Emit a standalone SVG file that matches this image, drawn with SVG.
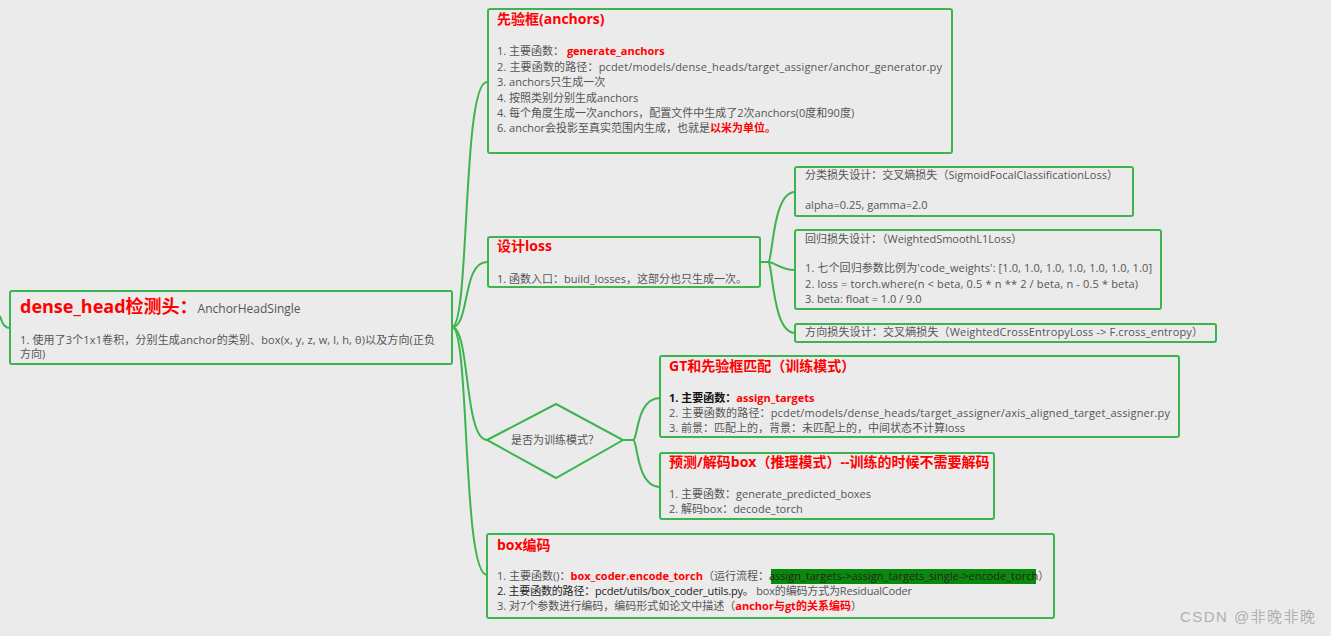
<svg xmlns="http://www.w3.org/2000/svg" width="1331" height="636" viewBox="0 0 1331 636">
<style>
text{font-family:"Open Sans","Noto Sans CJK SC",sans-serif;font-size:11px;fill:#555555}
.box{fill:#ebebeb;stroke:#3db54f;stroke-width:2}
.c{fill:none;stroke:#3db54f;stroke-width:2}
.t{fill:#ff0000;font-weight:bold;font-size:14px}
.r{fill:#ff0000;font-weight:bold}
.k{fill:#222222}
.kb{fill:#111111;font-weight:bold}
</style>
<rect width="1331" height="636" fill="#ebebeb"/>
<g id="connectors">
<path class="c" d="M0,316 C3,326 6,328 10,328"/>
<path class="c" d="M452,327 C470,327 462,82 487,82"/>
<path class="c" d="M452,327 C470,327 462,262 487,262"/>
<path class="c" d="M452,327 C470,327 464,440 487,440"/>
<path class="c" d="M452,327 C470,327 462,575 487,575"/>
<path class="c" d="M760,262 L768,262 C773,262 772,192 795,192"/>
<path class="c" d="M768,262 C775,262 780,270 795,270"/>
<path class="c" d="M768,262 C773,262 772,333 795,333"/>
<path class="c" d="M623,440 L633,440 C638,440 636,398 660,398"/>
<path class="c" d="M633,440 C638,440 636,487 660,487"/>
</g>
<g id="dense_head">
<rect class="box" x="10" y="291" width="442" height="73" rx="2"/>
<text x="20" y="313" style="font-size:18px;font-weight:bold;fill:#ff0000">dense_head检测头：<tspan style="font-size:12px;font-weight:normal;fill:#555555">AnchorHeadSingle</tspan></text>
<text x="20" y="344" textLength="415">1. 使用了3个1x1卷积，分别生成anchor的类别、box(x, y, z, w, l, h, θ)以及方向(正负</text>
<text x="20" y="358">方向)</text>
</g>
<g id="anchors">
<rect class="box" x="488" y="9" width="464" height="144" rx="2"/>
<text class="t" x="497" y="24">先验框(anchors)</text>
<text x="497" y="55">1. 主要函数： <tspan class="r">generate_anchors</tspan></text>
<text x="497" y="71" textLength="445">2. 主要函数的路径：pcdet/models/dense_heads/target_assigner/anchor_generator.py</text>
<text x="497" y="86">3. anchors只生成一次</text>
<text x="497" y="102">4. 按照类别分别生成anchors</text>
<text x="497" y="117">4. 每个角度生成一次anchors，配置文件中生成了2次anchors(0度和90度)</text>
<text x="497" y="132">6. anchor会投影至真实范围内生成，也就是<tspan class="r">以米为单位。</tspan></text>
</g>
<g id="loss">
<rect class="box" x="488" y="237" width="272" height="50" rx="2"/>
<text class="t" x="497" y="251">设计loss</text>
<text x="497" y="283">1. 函数入口：build_losses，这部分也只生成一次。</text>
</g>
<g id="cls_loss">
<rect class="box" x="795" y="167" width="338" height="49" rx="2"/>
<text x="805" y="179" textLength="313">分类损失设计：交叉熵损失（SigmoidFocalClassificationLoss）</text>
<text x="805" y="209">alpha=0.25, gamma=2.0</text>
</g>
<g id="reg_loss">
<rect class="box" x="795" y="230" width="366" height="79" rx="2"/>
<text x="805" y="243">回归损失设计：（WeightedSmoothL1Loss）</text>
<text x="805" y="272" textLength="347">1. 七个回归参数比例为'code_weights': [1.0, 1.0, 1.0, 1.0, 1.0, 1.0, 1.0]</text>
<text x="805" y="288" textLength="333">2. loss = torch.where(n &lt; beta, 0.5 * n ** 2 / beta, n - 0.5 * beta)</text>
<text x="805" y="303">3. beta: float = 1.0 / 9.0</text>
</g>
<g id="dir_loss">
<rect class="box" x="795" y="324" width="421" height="18" rx="2"/>
<text x="805" y="336" textLength="398">方向损失设计：交叉熵损失（WeightedCrossEntropyLoss -&gt; F.cross_entropy）</text>
</g>
<g id="train_mode">
<polygon points="487,440 556,404 623,440 556,478" fill="#ebebeb" stroke="#3db54f" stroke-width="2"/>
<text x="555" y="444" text-anchor="middle">是否为训练模式？</text>
</g>
<g id="gt_match">
<rect class="box" x="660" y="356" width="519" height="81" rx="2"/>
<text class="t" x="669" y="371">GT和先验框匹配（训练模式）</text>
<text x="669" y="402"><tspan class="kb">1. 主要函数：</tspan><tspan class="r">assign_targets</tspan></text>
<text x="669" y="417" textLength="501">2. 主要函数的路径：pcdet/models/dense_heads/target_assigner/axis_aligned_target_assigner.py</text>
<text x="669" y="432">3. 前景：匹配上的，背景：未匹配上的，中间状态不计算loss</text>
</g>
<g id="predict">
<rect class="box" x="660" y="453" width="334" height="66" rx="2"/>
<text class="t" x="669" y="467">预测/解码box（推理模式）--训练的时候不需要解码</text>
<text x="669" y="498">1. 主要函数：generate_predicted_boxes</text>
<text x="669" y="513">2. 解码box：decode_torch</text>
</g>
<g id="box_encode">
<rect class="box" x="487" y="534" width="567" height="84" rx="2"/>
<text class="t" x="497" y="550">box编码</text>
<rect x="771" y="569" width="265" height="15" fill="#0a8a0a"/>
<text x="497" y="580">1. 主要函数()：<tspan class="r">box_coder.encode_torch</tspan>（运行流程：<tspan class="k">assign_targets-&gt;assign_targets_single-&gt;encode_torch</tspan>）</text>
<text x="497" y="595" textLength="415"><tspan class="k">2. 主要函数的路径：pcdet/utils/box_coder_utils.py。</tspan> box的编码方式为ResidualCoder</text>
<text x="497" y="610">3. 对7个参数进行编码，编码形式如论文中描述（<tspan class="r">anchor与gt的关系编码</tspan>）</text>
</g>
<text x="1180" y="622" textLength="135" style="font-size:15px;fill:#b0b0b0;font-family:'Liberation Sans','Noto Sans CJK SC',sans-serif">CSDN @非晚非晚</text>
</svg>
